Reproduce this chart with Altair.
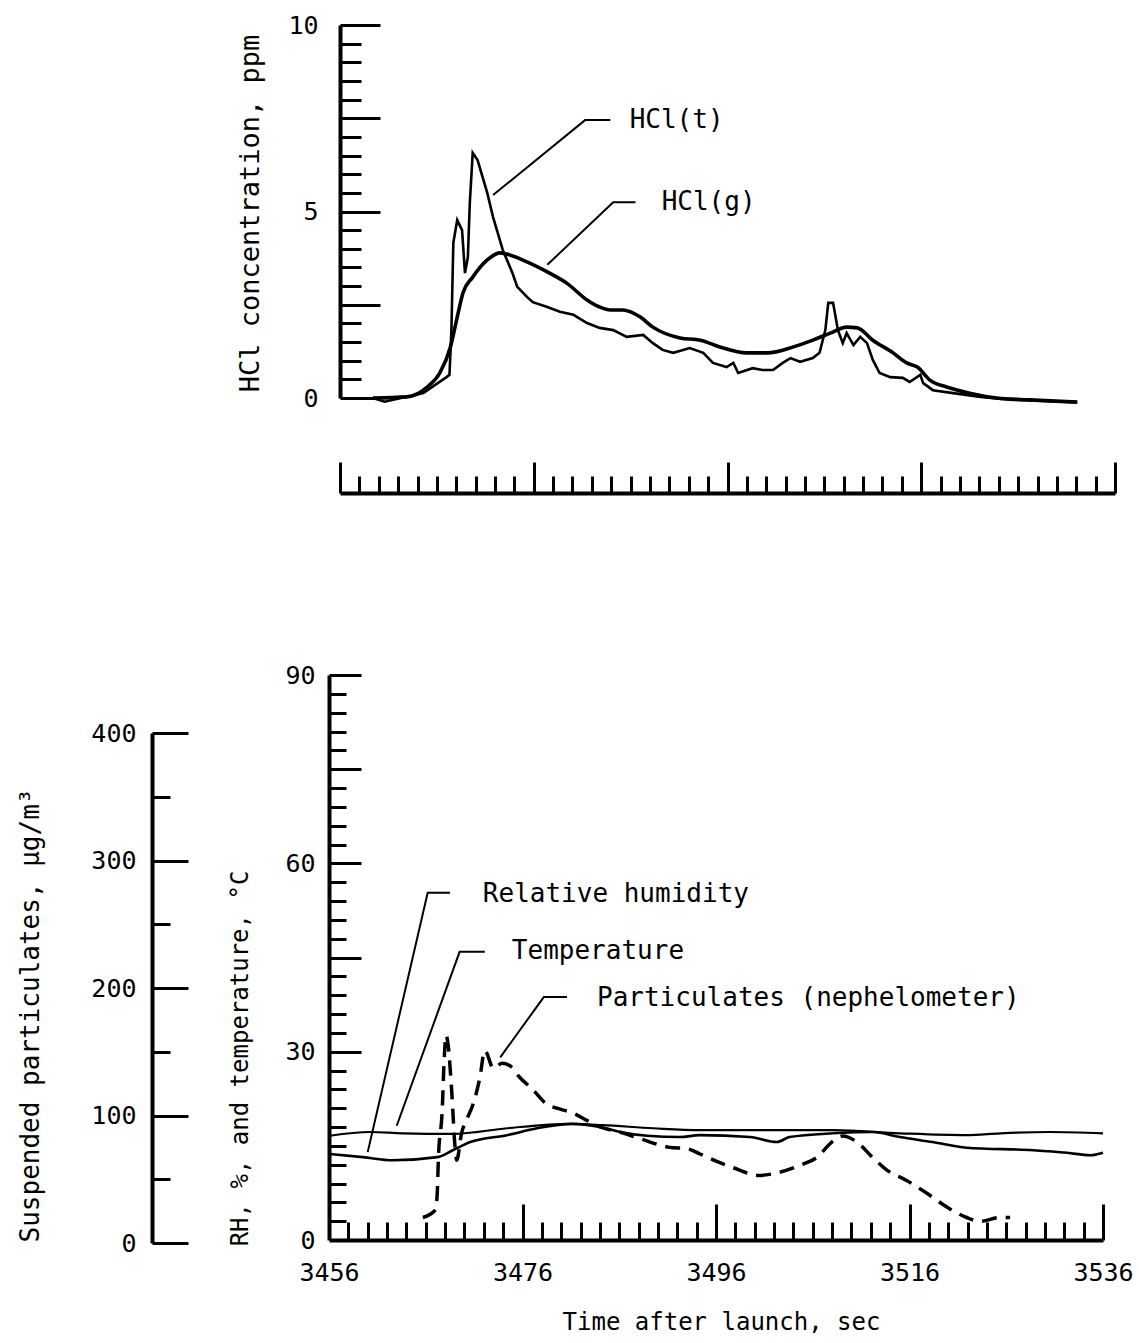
import altair as alt
import pandas as pd

FONT = "DejaVu Sans Mono"

# ---------------- Top panel: HCl concentration (ppm) ----------------
hcl_g_time = [3459.4, 3462.9, 3465.0, 3466.3, 3467.4, 3468.1, 3468.7, 3469.7, 3471.2, 3472.5,
              3473.2, 3475.3, 3477.4, 3479.4, 3481.5, 3482.8, 3483.9, 3485.2, 3487.0, 3488.3,
              3491.1, 3493.2, 3495.2, 3498.0, 3500.1, 3502.8, 3504.8, 3506.6, 3508.3, 3509.4,
              3511.0, 3513.1, 3514.5, 3515.6, 3516.9, 3518.7, 3521.0, 3523.8, 3527.2, 3532.1]
hcl_g_val = [0.0, 0.03, 0.29, 0.67, 1.37, 2.17, 2.82, 3.24, 3.70, 3.89,
             3.86, 3.65, 3.38, 3.08, 2.63, 2.44, 2.36, 2.36, 2.17, 1.90,
             1.61, 1.55, 1.37, 1.21, 1.21, 1.37, 1.55, 1.74, 1.90, 1.88,
             1.55, 1.21, 0.94, 0.83, 0.48, 0.29, 0.13, 0.0, -0.05, -0.11]

hcl_t_time = [3459.4, 3460.6, 3464.6, 3467.0, 3467.3, 3467.5, 3467.7, 3468.1, 3468.6, 3468.9,
              3469.2, 3469.4, 3469.7, 3470.2, 3471.2, 3471.8, 3472.8, 3473.8, 3474.3, 3475.3,
              3475.9, 3477.4, 3478.7, 3480.1, 3481.5, 3482.8, 3484.2, 3485.6, 3487.3, 3488.3,
              3489.3, 3490.4, 3492.1, 3493.5, 3494.5, 3495.9, 3496.6, 3497.1, 3498.6, 3499.6,
              3500.7, 3501.7, 3502.5, 3503.5, 3504.8, 3505.5, 3506.1, 3506.4, 3506.9, 3507.4,
              3507.9, 3508.3, 3509.0, 3509.7, 3510.4, 3511.0, 3511.7, 3512.8, 3514.1, 3514.8,
              3515.9, 3516.2, 3517.2, 3519.3, 3522.1, 3525.5, 3532.1]
hcl_t_val = [0.0, -0.1, 0.13, 0.56, 0.62, 1.82, 4.16, 4.77, 4.50, 3.35,
             3.78, 5.23, 6.57, 6.38, 5.50, 4.85, 3.97, 3.35, 2.98, 2.71,
             2.57, 2.44, 2.31, 2.23, 2.01, 1.88, 1.82, 1.64, 1.69, 1.47,
             1.29, 1.21, 1.34, 1.21, 0.94, 0.83, 0.94, 0.67, 0.80, 0.75,
             0.75, 0.94, 1.07, 0.97, 1.07, 1.21, 1.82, 2.55, 2.55, 1.82,
             1.47, 1.74, 1.42, 1.64, 1.47, 1.02, 0.67, 0.56, 0.54, 0.43,
             0.62, 0.40, 0.21, 0.13, 0.03, -0.05, -0.11]

top_labels = ["HCl(t)", "HCl(g)"]
top_label_time = [3485.9, 3489.2]
top_label_val = [7.45, 5.25]
top_leader_name = ["HCl(t)", "HCl(t)", "HCl(t)", "HCl(g)", "HCl(g)", "HCl(g)"]
top_leader_time = [3471.8, 3481.3, 3483.9, 3477.4, 3484.2, 3486.5]
top_leader_val = [5.44, 7.45, 7.45, 3.57, 5.25, 5.25]

top_y_major = [0, 2.5, 5, 7.5, 10]
top_y_minor = [0.5, 1, 1.5, 2, 3, 3.5, 4, 4.5, 5.5, 6, 6.5, 7, 8, 8.5, 9, 9.5]
top_y_text = [0, 5, 10]
ruler_major = [3456, 3476, 3496, 3516, 3536]
ruler_minor = [t for t in range(3458, 3536, 2) if t not in ruler_major]

# ---------------- Bottom panel: RH, temperature, particulates ----------------
temp_time = [3456.1, 3460.2, 3463.6, 3468.8, 3474.4, 3480.9, 3484.3, 3489.5, 3494.3, 3501.3,
             3508.1, 3515.0, 3521.9, 3525.4, 3530.5, 3536.0]
temp_val = [16.6, 17.2, 17.0, 16.9, 17.8, 18.5, 18.3, 17.8, 17.5, 17.5,
            17.5, 17.0, 16.7, 17.0, 17.2, 17.0]

rh_time = [3456.1, 3459.5, 3462.6, 3467.2, 3468.8, 3470.6, 3474.4, 3477.5, 3481.2, 3484.0,
           3486.1, 3488.9, 3492.3, 3494.3, 3499.5, 3502.3, 3503.6, 3508.1, 3512.2, 3515.0,
           3518.4, 3521.9, 3528.8, 3532.3, 3534.7, 3536.0]
rh_val = [13.7, 13.2, 12.7, 13.2, 14.3, 15.6, 16.7, 17.8, 18.5, 18.0,
          17.2, 16.6, 16.4, 16.7, 16.4, 15.6, 16.4, 17.0, 17.2, 16.4,
          15.6, 14.7, 14.3, 13.9, 13.5, 13.9]

part_time = [3465.7, 3467.0, 3467.2, 3467.3, 3467.7, 3467.9, 3468.1, 3468.3, 3468.7, 3469.0,
             3469.2, 3469.7, 3470.3, 3470.9, 3471.6, 3472.1, 3473.0, 3473.9, 3474.7, 3475.7,
             3477.1, 3478.5, 3479.9, 3481.2, 3482.7, 3484.0, 3486.1, 3488.1, 3491.2, 3493.0,
             3494.3, 3496.4, 3497.8, 3500.5, 3502.3, 3504.7, 3506.4, 3508.1, 3509.1, 3510.6,
             3512.2, 3513.7, 3515.7, 3517.8, 3519.9, 3521.9, 3523.3, 3525.4, 3526.4]
part_val = [20, 26, 41, 65, 104, 143, 163, 156, 117, 78,
            65, 86, 98, 109, 130, 151, 137, 141, 139, 130,
            120, 109, 105, 102, 96, 91, 87, 82, 75, 74,
            70, 63, 59, 53, 55, 61, 67, 80, 84, 79,
            67, 57, 49, 39, 28, 20, 17, 20, 20]

bot_labels = ["Relative humidity", "Temperature", "Particulates (nephelometer)"]
bot_label_time = [3471.9, 3474.9, 3483.7]
bot_label_val = [55.1, 46.0, 38.5]
bot_leader_name = ["rh"] * 3 + ["temp"] * 3 + ["part"] * 3
bot_leader_time = [3460.0, 3466.2, 3468.5, 3463.0, 3469.5, 3472.1, 3473.7, 3478.2, 3480.6]
bot_leader_val = [14.0, 55.3, 55.3, 18.2, 45.9, 45.9, 29.1, 38.7, 38.7]

bot_x_major = [3476, 3496, 3516, 3536]
bot_x_minor = [t for t in range(3458, 3536, 2) if t not in bot_x_major]
bot_x_text = [3456, 3476, 3496, 3516, 3536]
bot_y_major = [30, 45, 60, 75, 90]
bot_y_minor = [v for v in range(3, 90, 3) if v not in bot_y_major]
bot_y_text = [0, 30, 60, 90]
part_major = [0, 100, 200, 300, 400]
part_minor = [50, 150, 250, 350]

# ---------------- layout ----------------
W, H = 774, 1343
PAD_L = 329

top_xs = alt.Scale(domain=[3456, 3536], range=[11, 786], nice=False, zero=False)
top_ys = alt.Scale(domain=[0, 10], range=[398, 25], nice=False, zero=False)
bot_xs = alt.Scale(domain=[3456, 3536], range=[0, W], nice=False, zero=False)
bot_ys = alt.Scale(domain=[0, 90], range=[1240, 675], nice=False, zero=False)
part_ys = alt.Scale(domain=[0, 400], range=[1243, 733], nice=False, zero=False)


def ax(**kw):
    base = dict(grid=False, domainColor="black", tickColor="black", labelColor="black",
                titleColor="black", labelFont=FONT, titleFont=FONT, titleFontWeight="normal",
                labelFontSize=25, titleFontSize=24, tickWidth=3, domainWidth=4,
                labelOverlap=False, title=None)
    base.update(kw)
    return alt.Axis(**base)


tick_only = dict(labels=False)

ax_ruler_major = ax(orient="top", offset=-493, values=ruler_major, tickSize=31, **tick_only)
ax_ruler_minor = ax(orient="top", offset=-493, values=ruler_minor, tickSize=17, domain=False, **tick_only)
ax_top_y_major = ax(orient="right", offset=11 - W, values=top_y_major, tickSize=40, **tick_only)
ax_top_y_minor = ax(orient="right", offset=11 - W, values=top_y_minor, tickSize=21, domain=False, **tick_only)
ax_top_y_text = ax(orient="left", offset=-11, values=top_y_text, ticks=False, domain=False,
                   labelPadding=22, title="HCl concentration, ppm", titleFontSize=27,
                   titleX=-90, titleY=213, titleAngle=270, titleAlign="center",
                   titleBaseline="middle")

ax_bx_major = ax(orient="top", offset=-1240, values=bot_x_major, tickSize=36, **tick_only)
ax_bx_minor = ax(orient="top", offset=-1240, values=bot_x_minor, tickSize=18, domain=False, **tick_only)
ax_bx_text = ax(orient="bottom", offset=1240 - H, values=bot_x_text, ticks=False, domain=False,
                labelPadding=20, labelFontSize=25, format="d", labelFlush=False,
                title="Time after launch, sec", titleFontSize=24, titleX=392, titleY=82,
                titleAlign="center", titleBaseline="middle")
ax_by_major = ax(orient="right", offset=-W, values=bot_y_major, tickSize=32, **tick_only)
ax_by_minor = ax(orient="right", offset=-W, values=bot_y_minor, tickSize=17, domain=False, **tick_only)
ax_by_text = ax(orient="left", offset=0, values=bot_y_text, ticks=False, domain=False,
                labelPadding=14, title="RH, %, and temperature, °C", titleFontSize=24,
                titleX=-89, titleY=1058, titleAngle=270, titleAlign="center",
                titleBaseline="middle")
ax_p_major = ax(orient="right", offset=-177 - W, values=part_major, tickSize=36, **tick_only)
ax_p_minor = ax(orient="right", offset=-177 - W, values=part_minor, tickSize=18, domain=False, **tick_only)
ax_p_text = ax(orient="left", offset=177, values=part_major, ticks=False, domain=False,
               labelPadding=16, title="Suspended particulates, μg/m³", titleFontSize=26,
               titleX=-122, titleY=1015, titleAngle=270, titleAlign="center",
               titleBaseline="middle")

# ---------------- data frames ----------------
hclg_df = pd.DataFrame({"t": hcl_g_time, "v": hcl_g_val})
hclt_df = pd.DataFrame({"t": hcl_t_time, "v": hcl_t_val})
top_lab_df = pd.DataFrame({"label": top_labels, "t": top_label_time, "v": top_label_val})
top_lead_df = pd.DataFrame({"name": top_leader_name, "t": top_leader_time, "v": top_leader_val})
temp_df = pd.DataFrame({"t": temp_time, "v": temp_val})
rh_df = pd.DataFrame({"t": rh_time, "v": rh_val})
part_df = pd.DataFrame({"t": part_time, "p": part_val})
bot_lab_df = pd.DataFrame({"label": bot_labels, "t": bot_label_time, "v": bot_label_val})
bot_lead_df = pd.DataFrame({"name": bot_leader_name, "t": bot_leader_time, "v": bot_leader_val})
p_minor_df = pd.DataFrame({"p": part_minor})
p_text_df = pd.DataFrame({"p": part_major})

# ---------------- layers ----------------
l_hclg = alt.Chart(hclg_df).mark_line(color="black", strokeWidth=3.6, interpolate="monotone").encode(
    x=alt.X("t:Q", scale=top_xs, axis=ax_ruler_major),
    y=alt.Y("v:Q", scale=top_ys, axis=ax_top_y_major))
l_hclt = alt.Chart(hclt_df).mark_line(color="black", strokeWidth=2.6).encode(
    x=alt.X("t:Q", scale=top_xs, axis=ax_ruler_minor),
    y=alt.Y("v:Q", scale=top_ys, axis=ax_top_y_minor))
l_top_lead = alt.Chart(top_lead_df).mark_line(color="black", strokeWidth=2).encode(
    x=alt.X("t:Q", scale=top_xs, axis=None),
    y=alt.Y("v:Q", scale=top_ys, axis=ax_top_y_text),
    detail="name:N")
l_top_text = alt.Chart(top_lab_df).mark_text(
    align="left", baseline="middle", font=FONT, fontSize=26, color="black").encode(
    x=alt.X("t:Q", scale=top_xs, axis=None),
    y=alt.Y("v:Q", scale=top_ys, axis=None),
    text="label:N")

l_temp = alt.Chart(temp_df).mark_line(color="black", strokeWidth=2.2, interpolate="monotone").encode(
    x=alt.X("t:Q", scale=bot_xs, axis=ax_bx_major),
    y=alt.Y("v:Q", scale=bot_ys, axis=ax_by_major))
l_rh = alt.Chart(rh_df).mark_line(color="black", strokeWidth=2.6, interpolate="monotone").encode(
    x=alt.X("t:Q", scale=bot_xs, axis=ax_bx_minor),
    y=alt.Y("v:Q", scale=bot_ys, axis=ax_by_minor))
l_bot_lead = alt.Chart(bot_lead_df).mark_line(color="black", strokeWidth=2).encode(
    x=alt.X("t:Q", scale=bot_xs, axis=ax_bx_text),
    y=alt.Y("v:Q", scale=bot_ys, axis=ax_by_text),
    detail="name:N")
l_bot_text = alt.Chart(bot_lab_df).mark_text(
    align="left", baseline="middle", font=FONT, fontSize=26, color="black").encode(
    x=alt.X("t:Q", scale=bot_xs, axis=None),
    y=alt.Y("v:Q", scale=bot_ys, axis=None),
    text="label:N")
l_part = alt.Chart(part_df).mark_line(color="black", strokeWidth=3.5, strokeDash=[15, 9],
                                      interpolate="monotone").encode(
    x=alt.X("t:Q", scale=bot_xs, axis=None),
    y=alt.Y("p:Q", scale=part_ys, axis=ax_p_major))
l_p_minor = alt.Chart(p_minor_df).mark_point(opacity=0).encode(
    y=alt.Y("p:Q", scale=part_ys, axis=ax_p_minor))
l_p_text = alt.Chart(p_text_df).mark_point(opacity=0).encode(
    y=alt.Y("p:Q", scale=part_ys, axis=ax_p_text))

chart = alt.layer(
    l_hclg, l_hclt, l_top_lead, l_top_text,
    l_temp, l_rh, l_bot_lead, l_bot_text, l_part, l_p_minor, l_p_text
).resolve_scale(
    x="independent", y="independent"
).resolve_axis(
    x="independent", y="independent"
).properties(
    width=W, height=H,
    autosize=alt.AutoSizeParams(type="none"),
    padding={"left": PAD_L, "right": 1139 - PAD_L - W, "top": 0, "bottom": 0},
    background="white",
).configure_view(stroke=None)

chart.save("out.html", embed_options={"renderer": "svg", "actions": False})
